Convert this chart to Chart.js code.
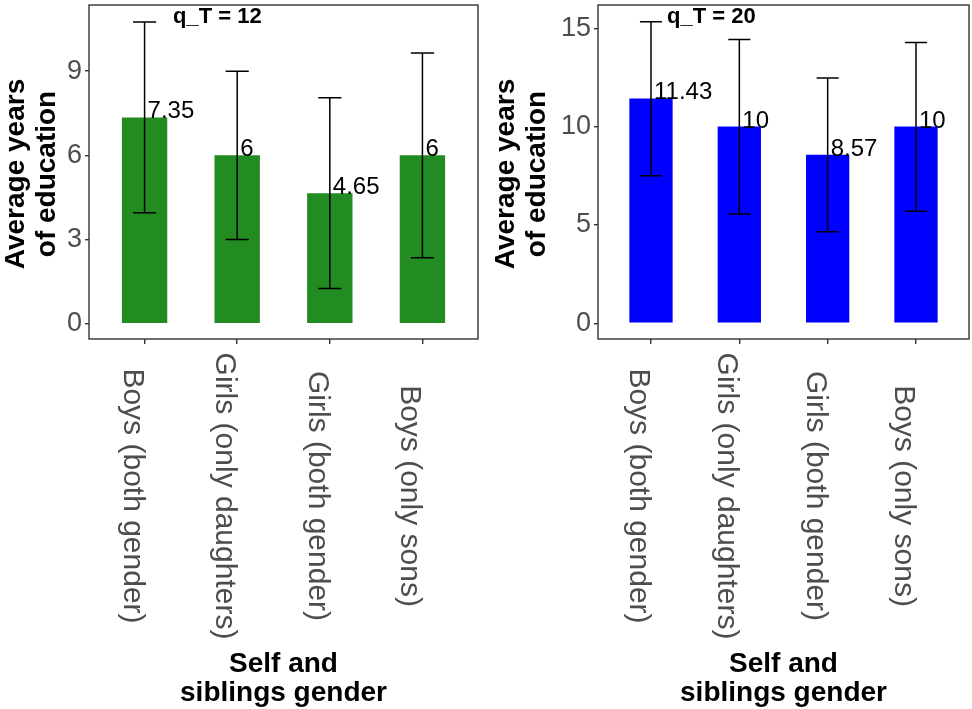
<!DOCTYPE html>
<html>
<head>
<meta charset="utf-8">
<script src="https://cdn.jsdelivr.net/npm/chart.js@4.4.1/dist/chart.umd.min.js"></script>
<style>
  body { margin: 0; background: #fff; }
  #wrap { position: relative; width: 972px; height: 709px; }
  #left { position: absolute; left: 0; top: 0; }
  #right { position: absolute; left: 490px; top: 0; }
</style>
</head>
<body>
<div id="wrap">
  <canvas id="left" width="490" height="709"></canvas>
  <canvas id="right" width="482" height="709"></canvas>
</div>
<script>
// Data
const categories = ['Boys (both gender)', 'Girls (only daughters)', 'Girls (both gender)', 'Boys (only sons)'];
const positions = [1, 2, 3, 4];

const meansT12 = [7.35, 6, 4.65, 6];
const lowT12 = [3.95, 3.0, 1.25, 2.35];
const highT12 = [10.75, 9.0, 8.05, 9.65];
const ticksT12 = [0, 3, 6, 9];

const meansT20 = [11.43, 10, 8.57, 10];
const lowT20 = [7.5, 5.55, 4.65, 5.7];
const highT20 = [15.33, 14.42, 12.47, 14.27];
const ticksT20 = [0, 5, 10, 15];

const FONT = "'Liberation Sans', Arial, Helvetica, sans-serif";
Chart.defaults.font.family = FONT;

// error bars, value labels, panel border, axis texts
const panelPlugin = {
    id: 'panel',
    afterDatasetsDraw(chart, args, opts) {
        const ctx = chart.ctx;
        const x = chart.scales.x;
        const y = chart.scales.y;
        ctx.save();
        ctx.strokeStyle = '#000';
        ctx.lineWidth = 1.5;
        positions.forEach((p, i) => {
            const cx = x.getPixelForValue(p);
            const x0 = x.getPixelForValue(p - 0.125);
            const x1 = x.getPixelForValue(p + 0.125);
            const yl = y.getPixelForValue(opts.low[i]);
            const yh = y.getPixelForValue(opts.high[i]);
            ctx.beginPath();
            ctx.moveTo(cx, yl); ctx.lineTo(cx, yh);
            ctx.moveTo(x0, yl); ctx.lineTo(x1, yl);
            ctx.moveTo(x0, yh); ctx.lineTo(x1, yh);
            ctx.stroke();
        });
        // value labels
        ctx.fillStyle = '#000';
        ctx.font = '24px ' + FONT;
        ctx.textAlign = 'left';
        ctx.textBaseline = 'alphabetic';
        positions.forEach((p, i) => {
            ctx.fillText(String(opts.means[i]), x.getPixelForValue(p) + 3, y.getPixelForValue(opts.means[i]) + 1);
        });
        ctx.restore();
    },
    afterDraw(chart, args, opts) {
        const ctx = chart.ctx;
        const a = chart.chartArea;
        const x = chart.scales.x;
        ctx.save();
        ctx.strokeStyle = '#333';
        ctx.lineWidth = 1.4;
        ctx.strokeRect(a.left, a.top, a.right - a.left, a.bottom - a.top);

        // annotation
        ctx.fillStyle = '#000';
        ctx.font = 'bold 22px ' + FONT;
        ctx.textAlign = 'left';
        ctx.fillText(opts.note, a.left + opts.noteOffset, a.top + 18);

        // x tick labels, rotated clockwise, centred
        ctx.fillStyle = '#4d4d4d';
        ctx.font = '30px ' + FONT;
        ctx.textAlign = 'center';
        positions.forEach((p, i) => {
            ctx.save();
            ctx.translate(x.getPixelForValue(p), 496);
            ctx.rotate(Math.PI / 2);
            ctx.fillText(categories[i], 0, 21);
            ctx.restore();
        });

        // x axis title
        ctx.fillStyle = '#000';
        ctx.font = 'bold 28px ' + FONT;
        const mid = (a.left + a.right) / 2;
        ctx.fillText('Self and', mid, 672);
        ctx.fillText('siblings gender', mid, 701);

        // y axis title
        ctx.save();
        ctx.translate(0, 174);
        ctx.rotate(-Math.PI / 2);
        ctx.fillText('Average years', 0, 24);
        ctx.fillText('of education', 0, 55);
        ctx.restore();
        ctx.restore();
    }
};

function makePanel(id, means, low, high, ticks, yMin, yMax, color, note, noteOffset, yWidth, padRight) {
    return new Chart(document.getElementById(id), {
        type: 'bar',
        data: {
            datasets: [{
                data: positions.map((p, i) => ({ x: p, y: means[i] })),
                backgroundColor: color,
                borderWidth: 0,
                barPercentage: 0.49,
                categoryPercentage: 1
            }]
        },
        options: {
            responsive: false,
            animation: false,
            layout: { padding: { top: 5, right: padRight, left: 0, bottom: 0 } },
            plugins: {
                legend: { display: false },
                tooltip: { enabled: false },
                panel: { means: means, low: low, high: high, note: note, noteOffset: noteOffset }
            },
            scales: {
                x: {
                    type: 'linear',
                    min: 0.4,
                    max: 4.6,
                    offset: false,
                    afterBuildTicks: s => { s.ticks = positions.map(v => ({ value: v })); },
                    afterFit: s => { s.height = 370; s.paddingLeft = 0; s.paddingRight = 0; },
                    ticks: { display: false },
                    grid: { offset: false, drawOnChartArea: false, drawTicks: true, tickLength: 5, color: '#333', lineWidth: 1.4 },
                    border: { display: false }
                },
                y: {
                    min: yMin,
                    max: yMax,
                    afterBuildTicks: s => { s.ticks = ticks.map(v => ({ value: v })); },
                    afterFit: s => { s.width = yWidth; s.paddingTop = 0; s.paddingBottom = 0; },
                    ticks: { color: '#4d4d4d', font: { size: 27 }, padding: 3 },
                    grid: { drawOnChartArea: false, drawTicks: true, tickLength: 4, color: '#333', lineWidth: 1.4 },
                    border: { display: false }
                }
            }
        },
        plugins: [panelPlugin]
    });
}

makePanel('left', meansT12, lowT12, highT12, ticksT12, -0.55, 11.36, '#228B22', 'q_T = 12', 84, 89, 12);
makePanel('right', meansT20, lowT20, highT20, ticksT20, -0.8, 16.18, '#0000FF', 'q_T = 20', 69, 108, 3);
</script>
</body>
</html>
